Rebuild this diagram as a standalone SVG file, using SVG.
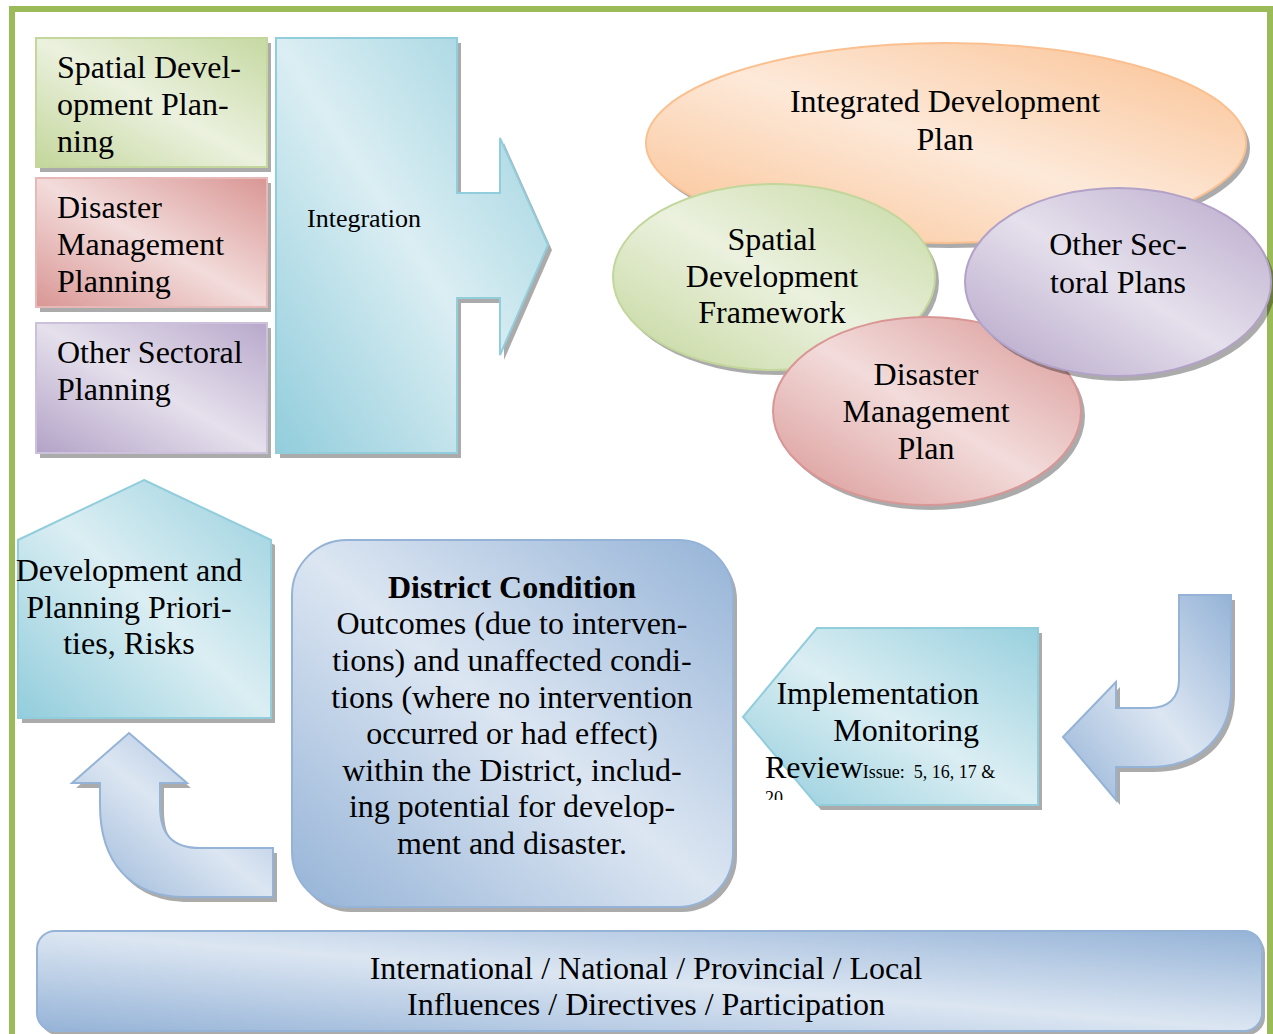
<svg xmlns="http://www.w3.org/2000/svg" xmlns:xlink="http://www.w3.org/1999/xlink" width="1273" height="1034" viewBox="0 0 1273 1034">
<style>
text{font-family:"Liberation Serif","Times New Roman",serif;font-size:32px;fill:#000;}
.c{text-anchor:middle;}
.e{text-anchor:end;}
.b{font-weight:bold;}
.sm{font-size:18px;}
.int{font-size:26px;}
.sh{fill:#000;fill-opacity:0.33;stroke:none;}
.pre{white-space:pre;}
</style>
<defs>
<linearGradient id="gGreen" x1="0" y1="1" x2="1" y2="0"><stop offset="0" stop-color="#c3d69b"/><stop offset="0.5" stop-color="#ebf1de"/><stop offset="1" stop-color="#c6d9a2"/></linearGradient>
<linearGradient id="gRed" x1="0" y1="1" x2="1" y2="0"><stop offset="0" stop-color="#d99694"/><stop offset="0.5" stop-color="#f2dcdb"/><stop offset="1" stop-color="#d99694"/></linearGradient>
<linearGradient id="gPurple" x1="0" y1="1" x2="1" y2="0"><stop offset="0" stop-color="#b3a2c7"/><stop offset="0.5" stop-color="#e5e0ec"/><stop offset="1" stop-color="#b8a8cb"/></linearGradient>
<linearGradient id="gAqua" x1="0" y1="1" x2="1" y2="0"><stop offset="0" stop-color="#92cddc"/><stop offset="0.5" stop-color="#dbeef3"/><stop offset="1" stop-color="#98d0de"/></linearGradient>
<linearGradient id="gOrange" x1="0" y1="1" x2="1" y2="0"><stop offset="0" stop-color="#fac090"/><stop offset="0.5" stop-color="#fde9d9"/><stop offset="1" stop-color="#fac090"/></linearGradient>
<linearGradient id="gBlue" x1="0" y1="1" x2="1" y2="0"><stop offset="0" stop-color="#95b3d7"/><stop offset="0.5" stop-color="#dce6f2"/><stop offset="1" stop-color="#95b3d7"/></linearGradient>
<rect id="box1" x="36" y="38" width="231" height="129"/>
<rect id="box2" x="36" y="178" width="231" height="129"/>
<rect id="box3" x="36" y="323" width="231" height="130"/>
<path id="intArrow" d="M276,38 L457,38 L457,193 L500,193 L500,138 L548,245 L500,355 L500,298 L457,298 L457,453 L276,453 Z"/>
<ellipse id="elIdp" cx="946" cy="143" rx="300" ry="100"/>
<ellipse id="elSdf" cx="774" cy="277" rx="161" ry="93"/>
<ellipse id="elDmp" cx="927" cy="411" rx="154" ry="94"/>
<ellipse id="elOsp" cx="1118" cy="282" rx="153" ry="94"/>
<polygon id="pDev" points="144,480 271,540 271,718 18,718 18,540"/>
<polygon id="pImp" points="743,717 817,628 1038,628 1038,805 817,805"/>
<rect id="rDist" x="292" y="540" width="441" height="367" rx="55"/>
<rect id="rBar" x="37" y="931" width="1225" height="100" rx="18"/>
<path id="aUp" d="M129,733 L187,783 L160,783 L160,806 C160,834 172,848 200,848 L273,848 L273,897 L185,897 C130,897 100,862 100,805 L100,783 L72,783 Z"/>
<path id="aJ" d="M1063,737 L1116,682 L1116,708 L1150,708 C1168,708 1179,698 1179,680 L1179,595 L1231,595 L1231,690 C1231,735 1200,767 1150,767 L1116,767 L1116,800 Z"/>
<clipPath id="clipImp"><rect x="740" y="620" width="300" height="180"/></clipPath>
</defs>

<rect id="frame" x="12" y="9" width="1258" height="1100" fill="none" stroke="#9bbb59" stroke-width="6"/>

<g id="node-spatial-planning">
<use xlink:href="#box1" class="sh" transform="translate(4,5)"/>
<use xlink:href="#box1" fill="url(#gGreen)" stroke="#c3d69b" stroke-width="2"/>
<text x="57" y="78">Spatial Devel-</text>
<text x="57" y="115">opment Plan-</text>
<text x="57" y="152">ning</text>
</g>
<g id="node-disaster-planning">
<use xlink:href="#box2" class="sh" transform="translate(4,5)"/>
<use xlink:href="#box2" fill="url(#gRed)" stroke="#e6b9b8" stroke-width="2"/>
<text x="57" y="218">Disaster</text>
<text x="57" y="255">Management</text>
<text x="57" y="292">Planning</text>
</g>
<g id="node-sectoral-planning">
<use xlink:href="#box3" class="sh" transform="translate(4,5)"/>
<use xlink:href="#box3" fill="url(#gPurple)" stroke="#ccc1da" stroke-width="2"/>
<text x="57" y="363">Other Sectoral</text>
<text x="57" y="400">Planning</text>
</g>
<g id="node-integration">
<use xlink:href="#intArrow" class="sh" transform="translate(4,5)"/>
<use xlink:href="#intArrow" fill="url(#gAqua)" stroke="#92cddc" stroke-width="2"/>
<text x="307" y="227" class="int">Integration</text>
</g>

<g id="node-idp">
<use xlink:href="#elIdp" class="sh" transform="translate(4,5)"/>
<use xlink:href="#elIdp" fill="url(#gOrange)" stroke="#fac090" stroke-width="2"/>
<text x="945" y="112" class="c">Integrated Development</text>
<text x="945" y="150" class="c">Plan</text>
</g>
<g id="node-sdf">
<use xlink:href="#elSdf" class="sh" transform="translate(4,5)"/>
<use xlink:href="#elSdf" fill="url(#gGreen)" stroke="#c3d69b" stroke-width="2"/>
<text x="772" y="250" class="c">Spatial</text>
<text x="772" y="287" class="c">Development</text>
<text x="772" y="323" class="c">Framework</text>
</g>
<g id="node-dmp">
<use xlink:href="#elDmp" class="sh" transform="translate(4,5)"/>
<use xlink:href="#elDmp" fill="url(#gRed)" stroke="#d99694" stroke-width="2"/>
<text x="926" y="385" class="c">Disaster</text>
<text x="926" y="422" class="c">Management</text>
<text x="926" y="459" class="c">Plan</text>
</g>
<g id="node-osp">
<use xlink:href="#elOsp" class="sh" transform="translate(4,5)"/>
<use xlink:href="#elOsp" fill="url(#gPurple)" stroke="#b3a2c7" stroke-width="2"/>
<text x="1118" y="255" class="c">Other Sec-</text>
<text x="1118" y="293" class="c">toral Plans</text>
</g>

<g id="node-priorities">
<use xlink:href="#pDev" class="sh" transform="translate(4,5)"/>
<use xlink:href="#pDev" fill="url(#gAqua)" stroke="#92cddc" stroke-width="2"/>
<text x="129" y="581" class="c">Development and</text>
<text x="129" y="618" class="c">Planning Priori-</text>
<text x="129" y="654" class="c">ties, Risks</text>
</g>

<g id="node-district">
<use xlink:href="#rDist" class="sh" transform="translate(4,5)"/>
<use xlink:href="#rDist" fill="url(#gBlue)" stroke="#95b3d7" stroke-width="2"/>
<text x="512" y="598" class="c b">District Condition</text>
<text x="512" y="634" class="c">Outcomes (due to interven-</text>
<text x="512" y="671" class="c">tions) and unaffected condi-</text>
<text x="512" y="708" class="c">tions (where no intervention</text>
<text x="512" y="744" class="c">occurred or had effect)</text>
<text x="512" y="781" class="c">within the District, includ-</text>
<text x="512" y="817" class="c">ing potential for develop-</text>
<text x="512" y="854" class="c">ment and disaster.</text>
</g>

<g id="node-implementation">
<use xlink:href="#pImp" class="sh" transform="translate(4,5)"/>
<use xlink:href="#pImp" fill="url(#gAqua)" stroke="#92cddc" stroke-width="2"/>
<text x="979" y="704" class="e">Implementation</text>
<text x="979" y="741" class="e">Monitoring</text>
<text x="765" y="778" class="pre">Review<tspan class="sm">Issue:  5, 16, 17 &amp;</tspan></text>
<g clip-path="url(#clipImp)"><text x="765" y="804" class="sm">20</text></g>
</g>

<g id="node-influences">
<use xlink:href="#rBar" class="sh" transform="translate(3,4)"/>
<use xlink:href="#rBar" fill="url(#gBlue)" stroke="#95b3d7" stroke-width="2"/>
<text x="646" y="979" class="c">International / National / Provincial / Local</text>
<text x="646" y="1015" class="c">Influences / Directives / Participation</text>
</g>

<g id="connectors">
<use xlink:href="#aUp" class="sh" transform="translate(4,5)"/>
<use xlink:href="#aUp" fill="url(#gBlue)" stroke="#95b3d7" stroke-width="2"/>
<use xlink:href="#aJ" class="sh" transform="translate(4,5)"/>
<use xlink:href="#aJ" fill="url(#gBlue)" stroke="#95b3d7" stroke-width="2"/>
</g>
</svg>
